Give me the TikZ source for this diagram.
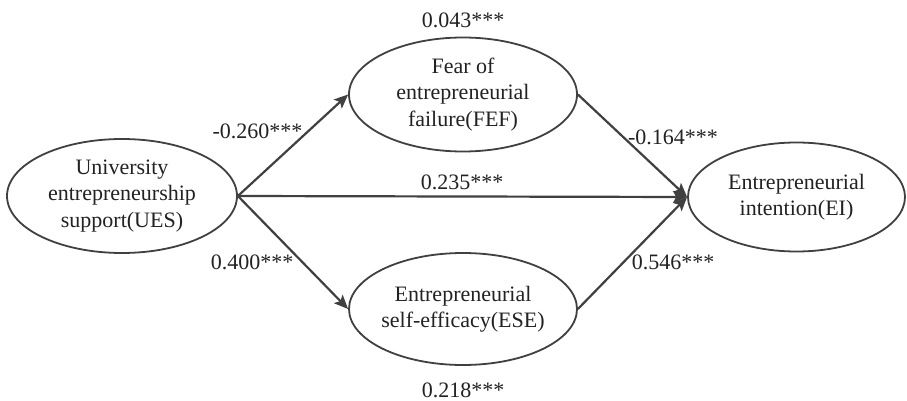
\documentclass[tikz,border=0pt]{standalone}
\usepackage{fontspec}
\setmainfont{Liberation Serif}
\usetikzlibrary{shapes.geometric,arrows.meta}
\definecolor{linec}{HTML}{404040}
\definecolor{textc}{HTML}{222222}
\begin{document}
\begin{tikzpicture}[x=1pt,y=-1pt,
  latent/.style={draw=linec, line width=1.8pt, ellipse, inner sep=0pt},
  txt/.style={text=textc, font=\fontsize{22}{26.5}\selectfont, align=center, inner sep=0pt},
  coef/.style={text=textc, font=\fontsize{22}{26.5}\selectfont, inner sep=0pt},
  pathline/.style={draw=linec, line width=2.2pt, -{Stealth[length=14pt,width=12pt,inset=3pt]}}]
\useasboundingbox[fill=white] (0,0) rectangle (907,401);
\node[latent, minimum width=230pt, minimum height=114pt] (UES) at (122,196) {};
\node[latent, minimum width=228pt, minimum height=114pt] (FEF) at (463,94.5) {};
\node[latent, minimum width=228pt, minimum height=112pt] (ESE) at (463,309) {};
\node[latent, minimum width=217pt, minimum height=109pt] (EI) at (796.5,197) {};
\node[txt] (tUES) at (UES.center) {University\\entrepreneurship\\support(UES)};
\node[txt] (tFEF) at (FEF.center) {Fear of\\entrepreneurial\\failure(FEF)};
\node[txt] (tESE) at (ESE.center) {Entrepreneurial\\self-efficacy(ESE)};
\node[txt] (tEI) at (EI.center) {Entrepreneurial\\intention(EI)};
\draw[pathline] (UES.east) -- (FEF.west);
\draw[pathline] (UES.east) -- (EI.west);
\draw[pathline] (UES.east) -- (ESE.west);
\draw[pathline] (FEF.east) -- (EI.west);
\draw[pathline] (ESE.east) -- (EI.west);
\node[coef] (cFEF) at (463,20) {0.043***};
\node[coef] (cESE) at (463,390) {0.218***};
\node[coef] (a1) at (257.5,131) {-0.260***};
\node[coef] (a2) at (252,262) {0.400***};
\node[coef] (cp) at (462,182) {0.235***};
\node[coef] (b1) at (673,137) {-0.164***};
\node[coef] (b2) at (673,262) {0.546***};
\end{tikzpicture}
\end{document}
